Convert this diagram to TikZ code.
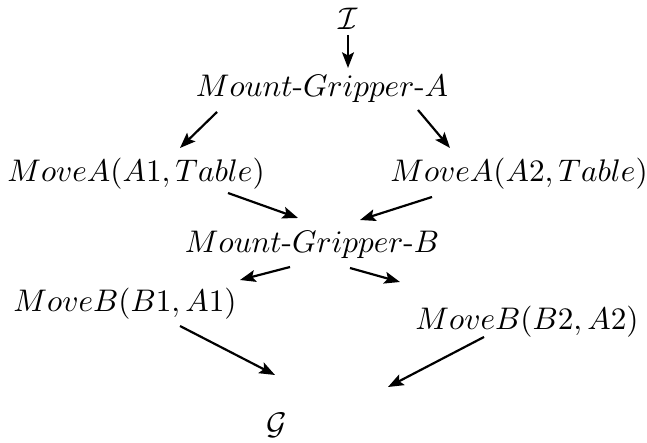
\documentclass[tikz,border=0pt]{standalone}
\usetikzlibrary{arrows.meta}
\begin{document}
\begin{tikzpicture}[x=0.32pt,y=-0.32pt,>={Stealth[length=5pt,width=3.8pt,inset=1pt]},
	act/.style={inner sep=0pt,anchor=base},
	arr/.style={->,line width=0.7pt}]
			\useasboundingbox (0,0) rectangle (647,443);
			% steps of the plan
			\node[act] (init) at (348,30) {$\mathcal{I}$};
			\node[act] (mga) at (322,97) {$Mount\mbox{-}Gripper\mbox{-}A$};
			\node[act] (ma1) at (136,182) {$MoveA(A1,Table)$};
			\node[act] (ma2) at (519,182) {$MoveA(A2,Table)$};
			\node[act] (mgb) at (312,253) {$Mount\mbox{-}Gripper\mbox{-}B$};
			\node[act] (mb1) at (125,312) {$MoveB(B1,A1)$};
			\node[act] (mb2) at (527,330) {$MoveB(B2,A2)$};
			\node[act] (goal) at (277,435) {$\mathcal{G}$};
			% ordering
			\draw[arr] ([shift={(0,5)}]init.base) -- ([shift={(26,-29)}]mga.base);
			\draw[arr] ([shift={(-105,15)}]mga.base) -- ([shift={(44,-34)}]ma1.base);
			\draw[arr] ([shift={(96,13)}]mga.base) -- ([shift={(-69,-34)}]ma2.base);
			\draw[arr] ([shift={(92,11)}]ma1.base) -- ([shift={(-14,-35)}]mgb.base);
			\draw[arr] ([shift={(-87,15)}]ma2.base) -- ([shift={(48,-33)}]mgb.base);
			\draw[arr] ([shift={(-22,14)}]mgb.base) -- ([shift={(115,-32)}]mb1.base);
			\draw[arr] ([shift={(38,15)}]mgb.base) -- ([shift={(-127,-48)}]mb2.base);
			\draw[arr] ([shift={(55,14)}]mb1.base) -- ([shift={(-2,-60)}]goal.base);
			\draw[arr] ([shift={(-43,7)}]mb2.base) -- ([shift={(111,-48)}]goal.base);
\end{tikzpicture}
\end{document}
